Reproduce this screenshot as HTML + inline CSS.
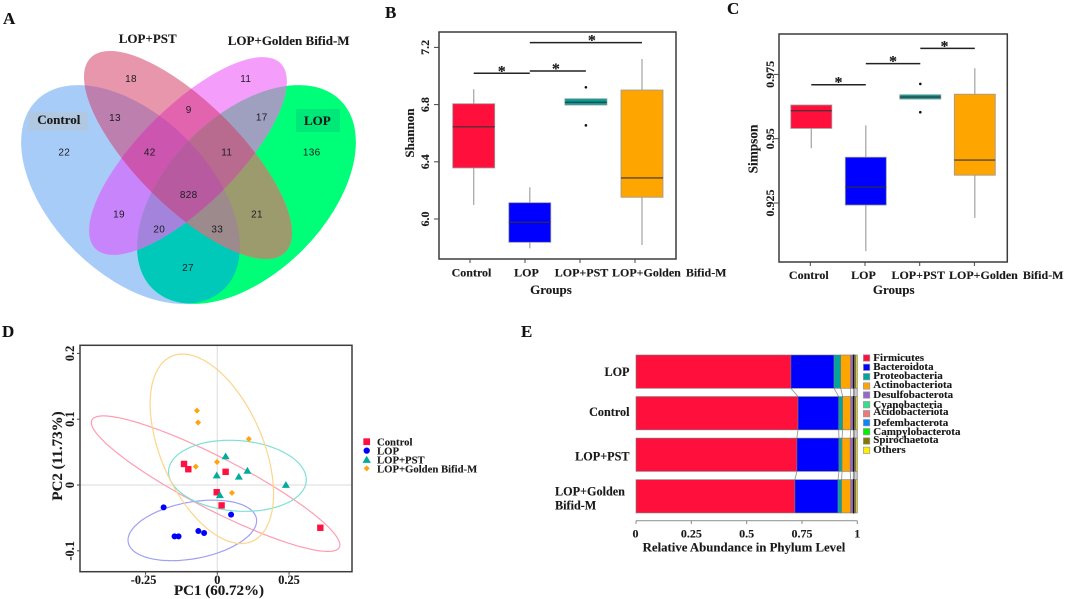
<!DOCTYPE html>
<html lang="en">
<head>
<meta charset="utf-8">
<title>Microbiome diversity figure</title>
<style>
html,body{margin:0;padding:0;background:#fff;width:1065px;height:599px;overflow:hidden}
svg{display:block;filter:blur(0.35px)}
text{font-family:"Liberation Serif",serif;font-weight:bold;fill:#1a1a1a;stroke:#1a1a1a;stroke-width:.12px}
.num{font-family:"Liberation Sans",sans-serif;font-weight:normal;font-size:10px;letter-spacing:.3px;text-anchor:middle;fill:#1c1c24;stroke:none}
.vl{font-size:13px}
.pl{font-size:17px;fill:#111}
</style>
</head>
<body>
<svg id="fig" width="1065" height="599" viewBox="0 0 1065 599" xmlns="http://www.w3.org/2000/svg">
<rect width="1065" height="599" fill="#fff"/>
<defs>
<ellipse id="eC" cx="130.5" cy="194.5" rx="133" ry="79" transform="rotate(45 130.5 194.5)"/>
<ellipse id="eL" cx="246.5" cy="194.5" rx="133" ry="79" transform="rotate(-45 246.5 194.5)"/>
<ellipse id="eP" cx="188" cy="155" rx="137.6" ry="52" transform="rotate(45 188 155)"/>
<ellipse id="eG" cx="188" cy="156" rx="131" ry="49" transform="rotate(-45 188 156)"/>
<clipPath id="cC"><use href="#eC"/></clipPath>
<clipPath id="cL"><use href="#eL"/></clipPath>
<clipPath id="cP"><use href="#eP"/></clipPath>
<clipPath id="cG"><use href="#eG"/></clipPath>
</defs>

<g>
<use href="#eC" fill="#a8ccf8"/>
<use href="#eL" fill="#00ff78"/>
<use href="#eP" fill="#e896ab"/>
<use href="#eG" fill="#f59dfb"/>
<g clip-path="url(#cC)"><use href="#eL" fill="#00c9b9"/><use href="#eP" fill="#bd7fae"/><use href="#eG" fill="#c885fb"/></g>
<g clip-path="url(#cP)"><use href="#eG" fill="#e364ae"/><use href="#eL" fill="#9b9b6d"/></g>
<g clip-path="url(#cG)"><use href="#eL" fill="#9f9fc0"/></g>
<g clip-path="url(#cC)"><g clip-path="url(#cP)"><use href="#eG" fill="#cc55b0"/><use href="#eL" fill="#9c8a8c"/></g></g>
<g clip-path="url(#cC)"><g clip-path="url(#cG)"><use href="#eL" fill="#a383dc"/></g></g>
<g clip-path="url(#cP)"><g clip-path="url(#cG)"><use href="#eL" fill="#b96b8f"/></g></g>
<g clip-path="url(#cC)"><g clip-path="url(#cP)"><g clip-path="url(#cG)"><use href="#eL" fill="#b85aa0"/></g></g></g>
<rect x="28" y="112" width="60" height="19" fill="#b0c8e2"/>
<rect x="296" y="109" width="44" height="23" fill="#00e878"/>
<text class="vl" x="147.7" y="43" text-anchor="middle">LOP+PST</text>
<text class="vl" x="227.7" y="45">LOP+Golden Bifid-M</text>
<text class="vl" x="37.3" y="124">Control</text>
<text class="vl" x="304" y="125">LOP</text>
<g>
<text class="num" x="131" y="82">18</text>
<text class="num" x="245.7" y="82">11</text>
<text class="num" x="115" y="121">13</text>
<text class="num" x="188.7" y="113">9</text>
<text class="num" x="261.7" y="120.5">17</text>
<text class="num" x="64.3" y="155.5">22</text>
<text class="num" x="149.7" y="155.5">42</text>
<text class="num" x="226.7" y="155.5">11</text>
<text class="num" x="311.7" y="155.5">136</text>
<text class="num" x="188.7" y="198">828</text>
<text class="num" x="119" y="217.5">19</text>
<text class="num" x="257" y="217.5">21</text>
<text class="num" x="159.3" y="232.5">20</text>
<text class="num" x="217.3" y="232.5">33</text>
<text class="num" x="188" y="271">27</text>
</g>
</g>

<text class="pl" x="3" y="24">A</text>
<text class="pl" x="385" y="18">B</text>
<text class="pl" x="727" y="14">C</text>
<text class="pl" x="2" y="337">D</text>
<text class="pl" x="521" y="337">E</text>

<g id="panelB">
<text font-size="13" x="551" y="294" text-anchor="middle">Groups</text>
<text font-size="13" transform="translate(414 133) rotate(-90)" text-anchor="middle">Shannon</text>
</g>
<g id="panelC">
<text font-size="13" x="893.7" y="294" text-anchor="middle">Groups</text>
<text font-size="13.3" transform="translate(757.7 149) rotate(-90)" text-anchor="middle">Simpson</text>
</g>
<g id="panelD">
<text font-size="15" x="219" y="595" text-anchor="middle">PC1 (60.72%)</text>
<text font-size="15" transform="translate(62 456) rotate(-90)" text-anchor="middle">PC2 (11.73%)</text>
</g>
<g id="panelE">
<text font-size="12.8" x="744" y="551.7" text-anchor="middle">Relative Abundance in Phylum Level</text>
</g>

<script>
/* ---------- shared box-plot categories ---------- */
const boxGroups = ['Control', 'LOP', 'LOP+PST', 'LOP+Golden Bifid-M'];
const boxColors = ['#ff0f3c', '#0000ff', '#009e96', '#ffa500'];

/* ---------- Shannon data ---------- */
const shannonTicks = [6.0, 6.4, 6.8, 7.2];
const shannonTickLabels = ['6.0', '6.4', '6.8', '7.2'];
const shannonHigh = [6.907, 6.222, 6.841, 7.119];
const shannonQ3 = [6.806, 6.114, 6.841, 6.902];
const shannonMedian = [6.645, 5.977, 6.816, 6.287];
const shannonQ1 = [6.357, 5.837, 6.797, 6.152];
const shannonLow = [6.098, 5.795, 6.797, 5.818];
const shannonOutliers = [[], [], [6.921, 6.655], []];
const shannonSigFrom = [0, 1, 1];
const shannonSigTo = [1, 2, 3];
const shannonSigLevel = [7.019, 7.035, 7.233];

/* ---------- Simpson data ---------- */
const simpsonTicks = [0.925, 0.95, 0.975];
const simpsonTickLabels = ['0.925', '0.95', '0.975'];
const simpsonHigh = [0.9631, 0.9552, 0.9671, 0.9774];
const simpsonQ3 = [0.9631, 0.9428, 0.9671, 0.9673];
const simpsonMedian = [0.9609, 0.9312, 0.9662, 0.9417];
const simpsonQ1 = [0.954, 0.9242, 0.9654, 0.9358];
const simpsonLow = [0.9463, 0.9063, 0.9654, 0.9192];
const simpsonOutliers = [[], [], [0.9713, 0.9603], []];
const simpsonSigFrom = [0, 1, 2];
const simpsonSigTo = [1, 2, 3];
const simpsonSigLevel = [0.971, 0.9792, 0.9851];

/* ---------- PCA data ---------- */
const pcaGroups = ['Control', 'LOP', 'LOP+PST', 'LOP+Golden Bifid-M'];
const pcaXTicks = [-0.25, 0, 0.25];
const pcaXTickLabels = ['-0.25', '0', '0.25'];
const pcaYTicks = [-0.1, 0, 0.1, 0.2];
const pcaYTickLabels = ['-0.1', '0', '0.1', '0.2'];
const controlPC1 = [-0.116, -0.101, 0.029, -0.002, 0.015, 0.359];
const controlPC2 = [0.032, 0.024, 0.020, -0.011, -0.031, -0.065];
const lopPC1 = [-0.187, -0.149, -0.135, -0.066, -0.046, 0.048];
const lopPC2 = [-0.034, -0.078, -0.078, -0.070, -0.073, -0.045];
const pstPC1 = [0.029, -0.002, 0.075, 0.105, 0.239, 0.009];
const pstPC2 = [0.044, 0.015, 0.013, 0.022, 0.0005, -0.015];
const goldenPC1 = [-0.071, -0.067, 0.110, -0.075, -0.001, 0.051];
const goldenPC2 = [0.113, 0.095, 0.070, 0.028, 0.035, -0.012];
/* confidence ellipses in data units: control, LOP, PST, golden */
const ellipseCenterPC1 = [-0.006, -0.087, 0.070, -0.019];
const ellipseCenterPC2 = [0.002, -0.069, 0.014, 0.055];
const ellipseSpreadPC1 = [0.433, 0.224, 0.240, 0.215];
const ellipseSpreadPC2 = [0.103, 0.046, 0.054, 0.144];
const ellipseCorrelation = [-0.903, 0.32, -0.11, -0.474];

/* ---------- phylum data: rows LOP, Control, LOP+PST, LOP+Golden ---------- */
const phylumGroups = ['LOP', 'Control', 'LOP+PST', 'LOP+Golden Bifid-M'];
const phylumNames = ['Firmicutes', 'Bacteroidota', 'Proteobacteria', 'Actinobacteriota', 'Desulfobacterota', 'Cyanobacteria', 'Acidobacteriota', 'Defembacterota', 'Campylobacterota', 'Spirochaetota', 'Others'];
const firmicutes = [0.700, 0.732, 0.727, 0.718];
const bacteroidota = [0.195, 0.184, 0.190, 0.195];
const proteobacteria = [0.030, 0.018, 0.014, 0.016];
const actinobacteriota = [0.045, 0.036, 0.037, 0.041];
const desulfobacterota = [0.012, 0.012, 0.014, 0.012];
const cyanobacteria = [0.002, 0.002, 0.002, 0.002];
const acidobacteriota = [0.001, 0.001, 0.001, 0.001];
const defembacterota = [0.001, 0.001, 0.001, 0.001];
const campylobacterota = [0.001, 0.001, 0.001, 0.001];
const spirochaetota = [0.007, 0.007, 0.007, 0.007];
const others = [0.006, 0.006, 0.006, 0.006];
const phylumTicks = [0, 0.25, 0.5, 0.75, 1];
const phylumTickLabels = ['0', '0.25', '0.5', '0.75', '1'];

const NS = 'http://www.w3.org/2000/svg';
function mk(tag, attrs, parent) {
  const el = document.createElementNS(NS, tag);
  for (const k in attrs) el.setAttribute(k, attrs[k]);
  parent.appendChild(el);
  return el;
}
function mkText(str, attrs, parent) {
  const el = mk('text', attrs, parent);
  el.textContent = str;
  return el;
}

function drawBoxPanel(p) {
  const g = document.getElementById(p.id);
  const frame = mk('rect', {x: p.left, y: p.top, width: p.right - p.left, height: p.bottom - p.top, fill: 'none', stroke: '#3c3c3c', 'stroke-width': 1.5}, g);
  
  

  p.ticks.forEach(function (t, i) {
    const tick = mk('line', {x1: p.left - 5, x2: p.left, y1: p.y(t), y2: p.y(t), stroke: '#444', 'stroke-width': 1}, g);
    
    
    const lab = mkText(p.tickLabels[i], {transform: 'translate(' + p.tickBase + ' ' + p.y(t) + ') rotate(-90)', 'text-anchor': 'middle', 'font-size': 12}, g);
    
    
  });

  boxGroups.forEach(function (name, i) {
    const cx = p.x(i);
    const hw = p.boxHalf;
    const whisker = mk('line', {x1: cx, x2: cx, y1: p.y(p.high[i]), y2: p.y(p.low[i]), stroke: '#aaa', 'stroke-width': 1.3}, g);
    
    
    const box = mk('rect', {x: cx - hw, width: 2 * hw, y: p.y(p.q3[i]), height: p.y(p.q1[i]) - p.y(p.q3[i]), fill: boxColors[i], stroke: '#999', 'stroke-width': 0.8}, g);
    
    
    const med = mk('line', {x1: cx - hw, x2: cx + hw, y1: p.y(p.median[i]), y2: p.y(p.median[i]), stroke: '#333', 'stroke-opacity': 0.8, 'stroke-width': 1.4}, g);
    
    
    p.outliers[i].forEach(function (v) {
      const dot = mk('circle', {cx: cx, cy: p.y(v), r: 1.3, fill: '#111'}, g);
      
      
    });
    const tick = mk('line', {x1: p.tickX(i), x2: p.tickX(i), y1: p.bottom, y2: p.bottom + 4, stroke: '#444', 'stroke-width': 1}, g);
    
    
    const last = i === boxGroups.length - 1;
    const lab = mkText(name, {x: last ? p.lastLabelX : p.tickX(i) + p.labelShift, y: p.labelBase, 'text-anchor': last ? 'start' : 'middle', 'font-size': 12, 'word-spacing': 2}, g);
    
    
  });

  p.sigFrom.forEach(function (from, i) {
    const x1 = p.x(from);
    const x2 = p.x(p.sigTo[i]);
    const yy = p.y(p.sigLevel[i]);
    const bar = mk('line', {x1: x1, x2: x2, y1: yy, y2: yy, stroke: '#222', 'stroke-width': 1.5}, g);
    
    
    const star = mkText('*', {x: (x1 + x2) / 2 + p.starShift[i], y: yy + 3, 'text-anchor': 'middle', 'font-size': 16}, g);
    
    
  });
}

drawBoxPanel({
  id: 'panelB', left: 439, right: 676, top: 32, bottom: 259, boxHalf: 21,
  y: function (v) { return 219 - (v - 6) * 143; },
  x: function (i) { return 473.7 + i * 56.1; },
  tickX: function (i) { return 470 + i * 55; },
  ticks: shannonTicks, tickLabels: shannonTickLabels, tickBase: 429, labelBase: 276.7, labelShift: 1.5, lastLabelX: 612,
  high: shannonHigh, q3: shannonQ3, median: shannonMedian, q1: shannonQ1, low: shannonLow, outliers: shannonOutliers,
  sigFrom: shannonSigFrom, sigTo: shannonSigTo, sigLevel: shannonSigLevel, starShift: [0, -2, 6]
});
drawBoxPanel({
  id: 'panelC', left: 779, right: 1007.3, top: 34, bottom: 262, boxHalf: 20.5,
  y: function (v) { return 138.7 - (v - 0.95) * 2572; },
  x: function (i) { return 811.3 + i * 54.5; },
  tickX: function (i) { return 810.3 + i * 54.7; },
  ticks: simpsonTicks, tickLabels: simpsonTickLabels, tickBase: 774, labelBase: 279, labelShift: -1.5, lastLabelX: 949,
  high: simpsonHigh, q3: simpsonQ3, median: simpsonMedian, q1: simpsonQ1, low: simpsonLow, outliers: simpsonOutliers,
  sigFrom: simpsonSigFrom, sigTo: simpsonSigTo, sigLevel: simpsonSigLevel, starShift: [0, 0, -3]
});

/* ---------- PCA panel ---------- */
(function () {
  const g = document.getElementById('panelD');
  const left = 80, right = 352, top = 345.3, bottom = 571.7;
  const px = function (v) { return 217.3 + v * 287; };
  const py = function (v) { return 485 - v * 658; };
  const seriesX = [controlPC1, lopPC1, pstPC1, goldenPC1];
  const seriesY = [controlPC2, lopPC2, pstPC2, goldenPC2];
  const fills = ['#ff1040', '#0000ff', '#00ad9c', '#ffa30f'];
  const ringColors = ['#ff9db0', '#a0a0f5', '#80e0d5', '#fcd58a'];

  function marker(kind, x, y, parent, scale) {
    const s = scale || 1;
    if (kind === 0) return mk('rect', {x: x - 3.2 * s, y: y - 3.2 * s, width: 6.4 * s, height: 6.4 * s, fill: fills[0]}, parent);
    if (kind === 1) return mk('circle', {cx: x, cy: y, r: 3 * s, fill: fills[1]}, parent);
    if (kind === 2) return mk('polygon', {points: (x - 4 * s) + ',' + (y + 3.2 * s) + ' ' + (x + 4 * s) + ',' + (y + 3.2 * s) + ' ' + x + ',' + (y - 3.6 * s), fill: fills[2]}, parent);
    return mk('polygon', {points: (x - 3 * s) + ',' + y + ' ' + x + ',' + (y - 3 * s) + ' ' + (x + 3 * s) + ',' + y + ' ' + x + ',' + (y + 3 * s), fill: fills[3]}, parent);
  }

  const h0 = mk('line', {x1: left, x2: right, y1: py(0), y2: py(0), stroke: '#e2e2e2', 'stroke-width': 1.2}, g);
  
  
  const v0 = mk('line', {x1: px(0), x2: px(0), y1: top, y2: bottom, stroke: '#e2e2e2', 'stroke-width': 1.2}, g);
  
  

  ellipseCenterPC1.forEach(function (c, i) {
    const phase = Math.acos(ellipseCorrelation[i]);
    const pts = [];
    for (let k = 0; k < 120; k++) {
      const t = k / 120 * 2 * Math.PI;
      pts.push(px(c + ellipseSpreadPC1[i] * Math.cos(t)).toFixed(1) + ',' + py(ellipseCenterPC2[i] + ellipseSpreadPC2[i] * Math.cos(t - phase)).toFixed(1));
    }
    const ring = mk('polygon', {points: pts.join(' '), fill: 'none', stroke: ringColors[i], 'stroke-width': 1.2}, g);
    
    
  });

  seriesX.forEach(function (xs, s) {
    xs.forEach(function (v, j) {
      const m = marker(s, px(v), py(seriesY[s][j]), g);
      
      
    });
  });

  const frame = mk('rect', {x: left, y: top, width: right - left, height: bottom - top, fill: 'none', stroke: '#3c3c3c', 'stroke-width': 1.5}, g);
  
  

  pcaXTicks.forEach(function (t, i) {
    const tk = mk('line', {x1: px(t), x2: px(t), y1: bottom, y2: bottom + 3, stroke: '#444'}, g);
    
    
    const lab = mkText(pcaXTickLabels[i], {x: px(t) - (t < 0 ? 2 : 0), y: 584, 'text-anchor': 'middle', 'font-size': 12.3}, g);
    
    
  });
  pcaYTicks.forEach(function (t, i) {
    const tk = mk('line', {x1: left - 3, x2: left, y1: py(t), y2: py(t), stroke: '#444'}, g);
    
    
    const lab = mkText(pcaYTickLabels[i], {transform: 'translate(74 ' + py(t) + ') rotate(-90)', 'text-anchor': 'middle', 'font-size': 12.3}, g);
    
    
  });

  pcaGroups.forEach(function (name, i) {
    const row = 441.7 + i * 8.9;
    const m = marker(i, 366.7, row, g, i === 3 ? 1 : 1.05);
    
    
    const lab = mkText(name, {x: 377, y: row + 4, 'font-size': 10.7}, g);
    
    
  });
})();

/* ---------- stacked phylum bars ---------- */
(function () {
  const g = document.getElementById('panelE');
  const x0 = 636, x1 = 857.3;
  const bx = function (v) { return x0 + v * (x1 - x0); };
  const barTop = function (i) { return 355 + i * 41.55; };
  const barH = 33.3;
  const series = [firmicutes, bacteroidota, proteobacteria, actinobacteriota, desulfobacterota, cyanobacteria, acidobacteriota, defembacterota, campylobacterota, spirochaetota, others];
  const colors = ['#ff0f3c', '#0000ff', '#00a5a0', '#ffa500', '#9966cc', '#33e08c', '#ee7777', '#0a84ff', '#00ee00', '#807a00', '#ffee00'];
  const catLines = [['LOP'], ['Control'], ['LOP+PST'], ['LOP+Golden', 'Bifid-M']];
  const catBase = [376, 416, 460.7, 495.7];

  phylumGroups.forEach(function (name, i) {
    let cum = 0;
    series.forEach(function (vals, s) {
      const thin = s >= 5 && s <= 8;
      const seg = mk('rect', {x: bx(cum), y: barTop(i), width: bx(cum + vals[i]) - bx(cum), height: barH, fill: colors[s], stroke: thin ? '#111' : '#7a7a7a', 'stroke-width': thin ? 0.8 : 0.6}, g);
      
      
      cum += vals[i];
      if (i < phylumGroups.length - 1) {
        let next = 0;
        for (let k = 0; k <= s; k++) next += series[k][i + 1];
        const link = mk('line', {x1: bx(cum), y1: barTop(i) + barH, x2: bx(next), y2: barTop(i + 1), stroke: '#999', 'stroke-width': 0.9}, g);
        
        
      }
    });
    catLines[i].forEach(function (line, k) {
      const two = catLines[i].length > 1;
      const lab = mkText(line, {x: two ? 555 : 629.5, y: catBase[i] + k * 13.6, 'text-anchor': two ? 'start' : 'end', 'font-size': 12.2}, g);
      
      
    });
  });

  const axis = mk('line', {x1: x0, x2: x1, y1: 520.7, y2: 520.7, stroke: '#999', 'stroke-width': 1.1}, g);
  
  
  phylumTicks.forEach(function (t, i) {
    const tk = mk('line', {x1: bx(t), x2: bx(t), y1: 520.7, y2: 524, stroke: '#888', 'stroke-width': 1}, g);
    
    
    const lab = mkText(phylumTickLabels[i], {x: bx(t) - (t === 0 ? 0.5 : 0), y: 537.3, 'text-anchor': 'middle', 'font-size': 12}, g);
    
    
  });

  const legendBase = [361, 370, 379, 388, 398, 408, 415, 426, 435, 443, 453];
  const legendRow = [358, 367.3, 376.7, 386, 395, 404.7, 413.7, 422.7, 431.7, 441, 450.3];
  phylumNames.forEach(function (name, i) {
    const sw = mk('rect', {x: 863.4, y: legendRow[i] - 3.2, width: 6.4, height: 6.4, fill: colors[i], stroke: '#999', 'stroke-width': 0.7}, g);
    
    
    const lab = mkText(name, {x: 873.3, y: legendBase[i], 'font-size': 11}, g);
    
    
  });
})();
</script>
</svg>
</body>
</html>
